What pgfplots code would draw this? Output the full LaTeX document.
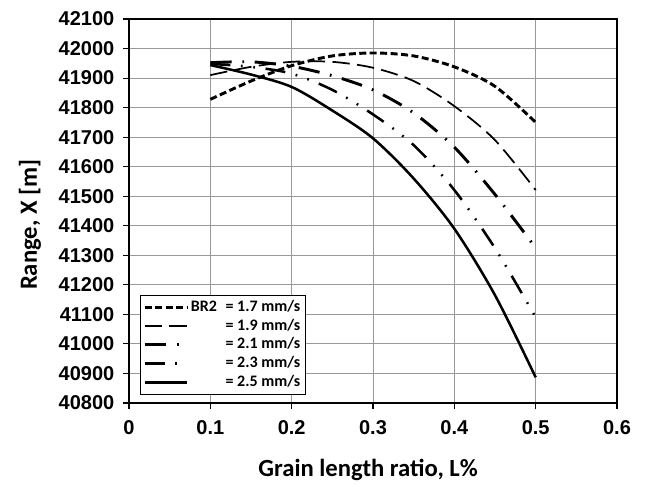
\documentclass[border=0pt]{standalone}
\usepackage{fontspec}
\setmainfont{Carlito}
\newfontfamily\arialf{Liberation Sans}
\usepackage{pgfplots}
\pgfplotsset{compat=1.18}
\begin{document}
\begin{tikzpicture}
\path[use as bounding box] (0,0) rectangle (484.5pt,364.5pt);
\begin{axis}[
  at={(96.75pt,62.25pt)}, anchor=south west,
  scale only axis, width=366pt, height=288pt,
  xmin=0, xmax=0.6, ymin=40800, ymax=42100,
  xtick={0,0.1,0.2,0.3,0.4,0.5,0.6},
  ytick={40800,40900,41000,41100,41200,41300,41400,41500,41600,41700,41800,41900,42000,42100},
  xticklabels={0,0.1,0.2,0.3,0.4,0.5,0.6},
  yticklabels={40800,40900,41000,41100,41200,41300,41400,41500,41600,41700,41800,41900,42000,42100},
  scaled y ticks=false,
  tick pos=left, tick align=outside,
  major tick length=4.5pt,
  tick style={black, line width=0.8pt},
  axis line style={black, line width=1.1pt},
  grid=major, grid style={color=black!40, line width=0.7pt},
  ticklabel style={font=\arialf\bfseries\fontsize{15}{18}\selectfont},
  xticklabel style={yshift=-5pt},
  yticklabel style={xshift=-3pt},
  xlabel={Grain length ratio, L\%},
  ylabel={Range, X [m]},
  label style={font=\bfseries\fontsize{18.5}{22}\selectfont},
  xlabel style={at={(axis description cs:0.49,-0.1745)}, anchor=center},
  ylabel style={at={(axis description cs:-0.203,0.464)}, anchor=center},
  legend style={at={(rel axis cs:0.0225,0.021)}, anchor=south west,
    draw=black, line width=1pt, fill=white,
    font=\bfseries\fontsize{12}{14}\selectfont,
    inner sep=2pt, row sep=0pt,
    nodes={inner ysep=1.5pt, text height=8.5pt, text depth=2.5pt}},
  legend cell align=left,
  legend image code/.code={\draw[#1] (0pt,0pt) -- (31.5pt,0pt);},
]
\addplot[black, smooth, line width=2.2pt, dash pattern=on 5.25pt off 2.6pt] coordinates {
 (0.1,41828) (0.15,41890) (0.2,41942) (0.25,41975) (0.3,41985) (0.35,41975) (0.4,41938) (0.45,41872) (0.5,41750)};
\addlegendentry{\makebox[26pt][l]{BR2}= 1.7 mm/s}
\addplot[black, smooth, line width=1.3pt, dash pattern=on 13pt off 5.5pt] coordinates {
 (0.1,41910) (0.15,41938) (0.2,41955) (0.25,41955) (0.3,41935) (0.35,41890) (0.4,41805) (0.45,41690) (0.5,41521)};
\addlegendentry{\makebox[26pt][l]{}= 1.9 mm/s}
\addplot[black, smooth, line width=2.2pt, dash pattern=on 16pt off 8pt on 1.3pt off 8pt] coordinates {
 (0.1,41952) (0.15,41955) (0.2,41940) (0.25,41908) (0.3,41860) (0.35,41782) (0.4,41666) (0.45,41506) (0.5,41325)};
\addlegendentry{\makebox[26pt][l]{}= 2.1 mm/s}
\addplot[black, smooth, line width=1.9pt, dash pattern=on 15pt off 8pt on 1.3pt off 8pt on 1.3pt off 8pt] coordinates {
 (0.1,41948) (0.15,41938) (0.2,41915) (0.25,41860) (0.3,41777) (0.35,41673) (0.4,41521) (0.45,41324) (0.5,41090)};
\addlegendentry{\makebox[26pt][l]{}= 2.3 mm/s}
\addplot[black, smooth, line width=1.9pt] coordinates {
 (0.1,41944) (0.15,41912) (0.2,41870) (0.25,41790) (0.3,41696) (0.35,41560) (0.4,41390) (0.45,41165) (0.5,40887)};
\addlegendentry{\makebox[26pt][l]{}= 2.5 mm/s}
\end{axis}
\end{tikzpicture}
\end{document}
